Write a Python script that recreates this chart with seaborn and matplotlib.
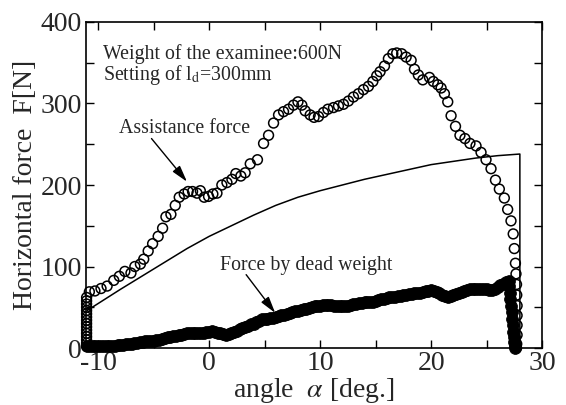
import numpy as np
import pandas as pd
import matplotlib
matplotlib.use("Agg")
import matplotlib.pyplot as plt
import seaborn as sns

# assistance force, measured (open circles)
assist_x = [-11.05, -11.05, -11.05, -11.05, -11.05, -11.05, -11.05, -11.05,
            -11.05, -11.05, -11.05, -11.05, -11.05, -11.05, -11.05, -11.05,
            -10.8, -10.3, -9.75, -9.2, -8.6, -8.1, -7.6, -7.05, -6.7, -6.2,
            -5.9, -5.5, -5.1, -4.6, -4.2, -3.9, -3.45, -3.06, -2.7, -2.25,
            -1.9, -1.5, -1.1, -0.8, -0.45, -0.06, 0.33, 0.7, 1.14, 1.6,
            2.05, 2.4, 2.85, 3.24, 3.7, 4.35, 4.9, 5.35, 5.8, 6.25,
            6.7, 7.15, 7.6, 8.0, 8.35, 8.65, 9.1, 9.45, 9.85, 10.3,
            10.7, 11.2, 11.65, 12.1, 12.55, 13.0, 13.45, 13.9, 14.35, 14.75,
            15.1, 15.4, 15.8, 16.15, 16.55, 16.9, 17.35, 17.75, 18.2, 18.5,
            18.85, 19.25, 19.85, 20.2, 20.6, 20.9, 21.2, 21.5, 21.8, 22.2,
            22.6, 23.05, 23.5, 24.05, 24.5, 24.95, 25.4, 25.8, 26.15, 26.6,
            26.9, 27.2, 27.4, 27.5, 27.6, 27.65, 27.7, 27.72, 27.75, 27.75,
            27.75, 27.75, 27.72, 27.7]
assist_y = [2, 6, 10, 14, 18, 22, 26, 30, 34, 38, 42, 46, 50, 54, 58, 62,
            69, 70, 73, 76, 83, 88, 94, 92, 100, 103,
            109, 119, 128, 137, 147, 161, 164, 175, 185, 189,
            192, 192, 190, 193, 185, 186, 189, 190, 200, 203,
            207, 214, 211, 215, 226, 231, 251, 261, 276, 286,
            290, 293, 298, 302, 298, 291, 286, 283, 284, 289,
            293, 295, 297, 299, 303, 308, 312, 317, 321, 327,
            334, 339, 346, 355, 361, 362, 361, 357, 353, 342,
            335, 329, 332, 327, 323, 319, 312, 302, 285, 272,
            261, 257, 251, 248, 240, 231, 220, 206, 195, 184,
            170, 156, 140, 122, 104, 91, 78, 65, 52, 40,
            28, 16, 5, 0]

# force by dead weight (filled circles)
dead_x = [-11.0, -10.75, -10.5, -10.25, -10.0, -9.75, -9.5, -9.25, -9.0, -8.75,
          -8.5, -8.25, -8.0, -7.75, -7.5, -7.25, -7.0, -6.75, -6.5, -6.25,
          -6.0, -5.75, -5.5, -5.25, -5.0, -4.75, -4.5, -4.25, -4.0, -3.75,
          -3.5, -3.25, -3.0, -2.75, -2.5, -2.25, -2.0, -1.75, -1.5, -1.25,
          -1.0, -0.75, -0.5, -0.25, 0.0, 0.25, 0.5, 0.75, 1.0, 1.25,
          1.5, 1.75, 2.0, 2.25, 2.5, 2.75, 3.0, 3.25, 3.5, 3.75,
          4.0, 4.25, 4.5, 4.75, 5.0, 5.25, 5.5, 5.75, 6.0, 6.25,
          6.5, 6.75, 7.0, 7.25, 7.5, 7.75, 8.0, 8.25, 8.5, 8.75,
          9.0, 9.25, 9.5, 9.75, 10.0, 10.25, 10.5, 10.75, 11.0, 11.25,
          11.5, 11.75, 12.0, 12.25, 12.5, 12.75, 13.0, 13.25, 13.5, 13.75,
          14.0, 14.25, 14.5, 14.75, 15.0, 15.25, 15.5, 15.75, 16.0, 16.25,
          16.5, 16.75, 17.0, 17.25, 17.5, 17.75, 18.0, 18.25, 18.5, 18.75,
          19.0, 19.25, 19.5, 19.75, 20.0, 20.25, 20.5, 20.75, 21.0, 21.25,
          21.5, 21.75, 22.0, 22.25, 22.5, 22.75, 23.0, 23.25, 23.5, 23.75,
          24.0, 24.25, 24.5, 24.75, 25.0, 25.25, 25.5, 25.75, 26.0, 26.25,
          26.5, 26.75, 27.0,
          27.05, 27.1, 27.15, 27.2, 27.25, 27.3, 27.35, 27.4, 27.45, 27.5,
          27.55, 27.6]
dead_y = [3, 2, 2, 2, 2, 2, 2, 2, 2, 3,
          3, 4, 4, 4, 5, 5, 5, 6, 6, 7,
          7, 8, 8, 9, 9, 10, 10, 11, 12, 13,
          14, 15, 15, 16, 16, 17, 18, 18, 18, 18,
          18, 19, 19, 20, 20, 21, 20, 19, 18, 17,
          16, 17, 18, 20, 21, 23, 24, 26, 27, 29,
          30, 32, 33, 35, 36, 36, 37, 37, 38, 39,
          40, 41, 42, 43, 44, 45, 46, 47, 48, 48,
          49, 50, 51, 51, 52, 53, 53, 53, 53, 52,
          52, 52, 52, 52, 52, 53, 54, 54, 55, 55,
          56, 56, 57, 57, 58, 59, 60, 60, 61, 62,
          63, 63, 64, 64, 65, 65, 66, 66, 67, 67,
          68, 69, 70, 70, 71, 70, 69, 67, 65, 64,
          63, 64, 65, 66, 68, 69, 70, 71, 72, 72,
          73, 73, 73, 72, 72, 71, 71, 73, 75, 77,
          79, 81, 82,
          76, 68, 60, 52, 44, 36, 28, 20, 13, 7,
          3, 0]

# calculated assistance force (solid line)
calc_x = [-11, -8, -5, -2, 0, 2, 4, 6, 8, 10, 12, 14, 16, 18, 20, 22, 24, 26, 28, 28]
calc_y = [46, 72, 97, 122, 137, 150, 163, 175, 185, 193, 200, 207, 213, 219, 225, 229, 233, 236, 238, 0]

sns.set_style("ticks")
plt.rcParams['font.family'] = ['Liberation Serif', 'DejaVu Serif']
plt.rcParams['mathtext.fontset'] = 'stix'
plt.rcParams['axes.unicode_minus'] = False

fig = plt.figure(figsize=(5.66, 4.05), dpi=100)
ax = fig.add_axes([0.152, 0.1407, 0.8057, 0.805])

assist = pd.DataFrame({'x': assist_x, 'y': assist_y})
dead = pd.DataFrame({'x': dead_x, 'y': dead_y})
calc = pd.DataFrame({'x': calc_x, 'y': calc_y})

sns.lineplot(data=calc, x='x', y='y', sort=False, estimator=None,
             color='black', lw=1.1, ax=ax)
sns.scatterplot(data=dead, x='x', y='y', s=72, color='black',
                edgecolor='black', linewidth=0.6, ax=ax, zorder=3, clip_on=False)
sns.scatterplot(data=assist, x='x', y='y', s=50, facecolor='none',
                edgecolor='black', linewidth=1.1, ax=ax, zorder=4, clip_on=False)

ax.set_xlim(-11.1, 30)
ax.set_ylim(0, 400)
ax.set_xticks([-10, 0, 10, 20, 30])
ax.set_xticks(np.arange(-10, 31, 5), minor=True)
ax.set_yticks([0, 100, 200, 300, 400])
ax.set_yticks(np.arange(0, 401, 50), minor=True)
ax.tick_params(which='both', direction='in', top=True, right=True,
               length=6, width=1, color='black')
ax.tick_params(axis='x', labelsize=20, pad=2)
ax.tick_params(axis='y', labelsize=20, pad=3)
for sp in ax.spines.values():
    sp.set_linewidth(1.2)
    sp.set_color('black')

ax.set_xlabel(r'angle  $\alpha$ [deg.]', fontsize=20, labelpad=0)
ax.set_ylabel('Horizontal force  F[N]', fontsize=20, labelpad=2)

ax.text(0.037, 0.885, 'Weight of the examinee:600N', transform=ax.transAxes,
        fontsize=14.3, ha='left', va='baseline')
ax.text(0.037, 0.823, r'Setting of l$_\mathrm{d}$=300mm', transform=ax.transAxes,
        fontsize=14.3, ha='left', va='baseline')

arrow = dict(arrowstyle='-|>,head_length=1.0,head_width=0.28', color='black',
             lw=1.0, shrinkA=0, shrinkB=0)
ax.annotate('', xy=(-2.0, 204), xytext=(-5.2, 257), arrowprops=arrow)
ax.text(-2.2, 264, 'Assistance force', fontsize=14.3, ha='center', va='baseline')
ax.annotate('', xy=(5.95, 43), xytext=(3.33, 90), arrowprops=arrow)
ax.text(8.75, 96, 'Force by dead weight', fontsize=14.3, ha='center', va='baseline')

fig.savefig('out.png', dpi=100)
